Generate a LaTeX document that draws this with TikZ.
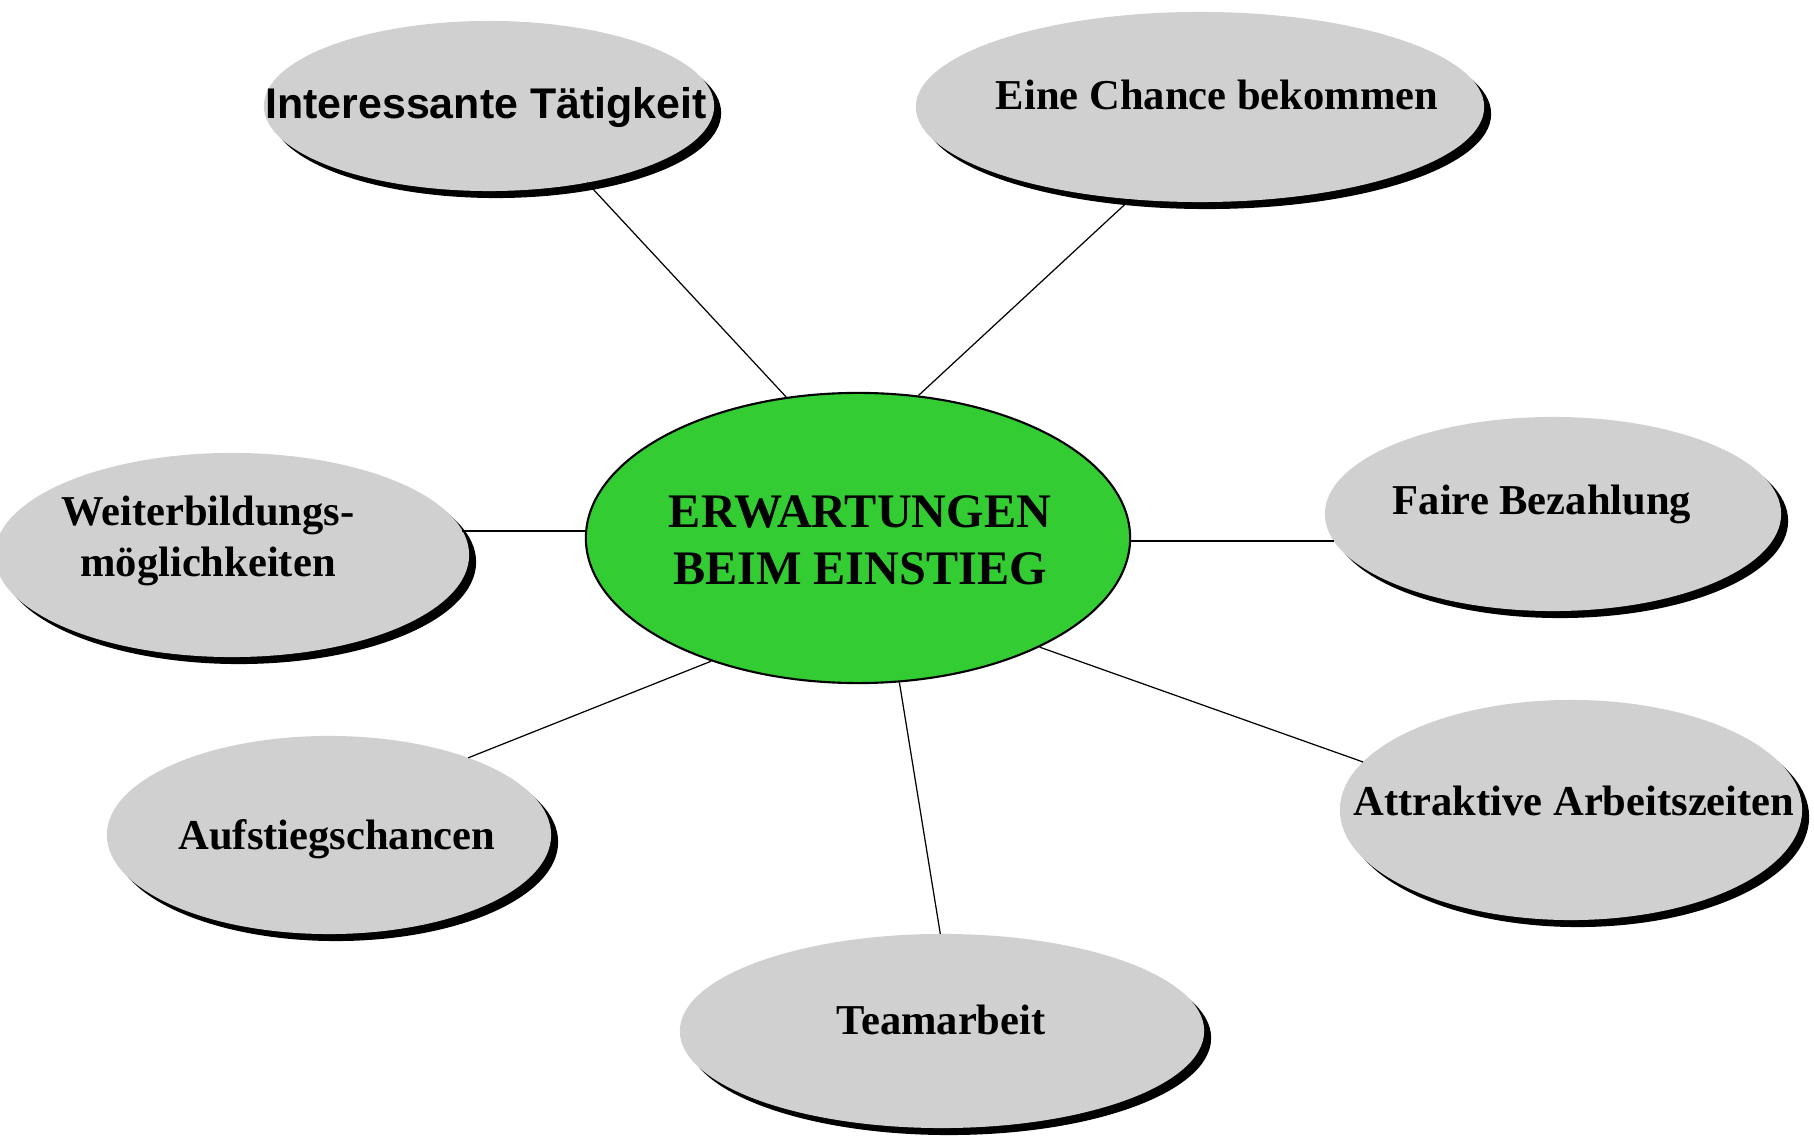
\documentclass[tikz,border=0pt]{standalone}
\usepackage{fontspec}
\setmainfont{Liberation Serif}
\newfontfamily\arialfont{Liberation Sans}
\usetikzlibrary{shapes.geometric}
\usetikzlibrary{shadows}
\definecolor{bubblegray}{RGB}{208,208,208}
\definecolor{goalgreen}{RGB}{51,204,51}

\begin{document}
\begin{tikzpicture}[x=0.01cm,y=-0.01cm,
  bubble/.style 2 args={ellipse,fill=bubblegray,minimum width=#1,minimum height=#2,
    inner sep=0pt,outer sep=0pt,
    drop shadow={shadow xshift=0.07cm,shadow yshift=-0.07cm,fill=black,opacity=1}},
  tag/.style={font=\fontsize{12.1}{14.5}\selectfont\bfseries,align=center,inner sep=0pt},
  link/.style={line width=0.35pt}]
 \useasboundingbox (0,0) rectangle (1814,1137);

 % centre
 \node[ellipse,draw,line width=0.6pt,fill=goalgreen,minimum width=5.44cm,minimum height=2.9cm,
   inner sep=0pt] (goal) at (858,538) {};

 % bubbles round it
 \node[bubble={4.50cm}{1.70cm}] (interest) at (489,106) {};
 \node[bubble={5.68cm}{1.90cm}] (chance) at (1200,107) {};
 \node[bubble={4.74cm}{2.04cm}] (training) at (232,555) {};
 \node[bubble={4.56cm}{1.94cm}] (pay) at (1553,514) {};
 \node[bubble={4.62cm}{2.20cm}] (hours) at (1571,810) {};
 \node[bubble={5.24cm}{1.94cm}] (team) at (942,1031) {};
 \node[bubble={4.44cm}{1.98cm}] (career) at (329,835) {};

 \draw[link] (goal.117) -- (interest.-38);
 \draw[link] (goal.67) -- (chance.233);
 \draw[line width=0.7pt] (training.6) -- (training.6 -| goal.west);
 \draw[link] (goal.east |- pay.187) -- (pay.187);
 \draw[link] (goal.-31) -- (hours.167);
 \draw[link] (goal.-74) -- (team.91);
 \draw[link] (goal.220) -- (career.29);

 % texts
 \node[tag,font=\fontsize{13.7}{16.2}\selectfont\bfseries] (goal-t) at (860,540)
   {ERWARTUNGEN\\ BEIM EINSTIEG};
 \node[tag,font=\arialfont\fontsize{12.2}{14}\selectfont\bfseries] (interest-t) at (486,108)
   {Interessante Tätigkeit};
 \node[tag] (chance-t) at (1217,95) {Eine Chance bekommen};
 \node[tag] (training-t) at (208,541) {Weiterbildungs-\\möglichkeiten};
 \node[tag] (pay-t) at (1542,504) {Faire Bezahlung};
 \node[tag] (hours-t) at (1574,801) {Attraktive Arbeitszeiten};
 \node[tag] (team-t) at (941,1020) {Teamarbeit};
 \node[tag] (career-t) at (337,839) {Aufstiegschancen};
\end{tikzpicture}
\end{document}
